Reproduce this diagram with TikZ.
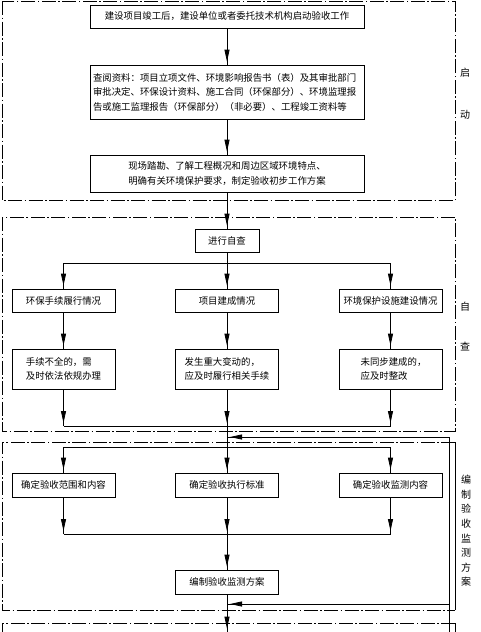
\documentclass[tikz,border=0pt]{standalone}
\usepackage{fontspec}
\setmainfont{Noto Sans CJK SC}
\usetikzlibrary{arrows.meta}
\begin{document}
\begin{tikzpicture}[x=1pt,y=-1pt,
  txt/.style={font=\fontsize{9.4pt}{14.5pt}\selectfont},
  box/.style={draw, line width=0.8pt, inner sep=2pt, align=center, txt},
  widebox/.style={box, minimum width=274pt},
  rowbox/.style={box, minimum width=103pt},
  conn/.style={line width=0.8pt},
  arr/.style={conn, postaction={draw, line width=0.8pt, -{Triangle[width=5pt,length=12pt]}, shorten >=3pt}},
  frame/.style={line width=0.8pt, dash pattern=on 14pt off 2.5pt on 1.5pt off 2.5pt},
  lbl/.style={txt, font=\fontsize{10pt}{14.6pt}\selectfont, align=center, inner sep=0pt}
]
\useasboundingbox (0,0) rectangle (481,632);
\clip (0,0) rectangle (481,632);

% frames
\draw[frame] (2,1) rectangle (455,200);
\draw[frame] (2,217) rectangle (455,431);
\draw[frame] (455,442) -- (2,442) -- (2,610) -- (455,610);
\draw[conn] (455,442) -- (455,610);
\draw[frame] (455,623) -- (2,623) -- (2,660);
\draw[conn] (455,623) -- (455,660);

% frame labels
\node[lbl] (q1) at (465,73) {启};
\node[lbl] (q2) at (465,115) {动};
\node[lbl] (z1) at (465,307) {自};
\node[lbl] (z2) at (465,347) {查};
\node[lbl] (bz3) at (466,531) {编\\制\\验\\收\\监\\测\\方\\案};

% stage 1
\node[widebox, minimum height=23pt] (n1) at (227,16.5) {建设项目竣工后，建设单位或者委托技术机构启动验收工作};
\node[box, minimum height=54pt, text width=268pt, inner xsep=3pt, align=left] (n2) at (227,92)
  {查阅资料：项目立项文件、环境影响报告书（表）及其审批部门\\审批决定、环保设计资料、施工合同（环保部分）、环境监理报\\告或施工监理报告（环保部分）（非必要）、工程竣工资料等};
\node[widebox, minimum height=37pt, align=left] (n3) at (227,173.5)
  {现场踏勘、了解工程概况和周边区域环境特点、\\明确有关环境保护要求，制定验收初步工作方案};

% stage 2
\node[box, minimum width=64pt, minimum height=23pt] (jc) at (227,240.5) {进行自查};
\node[rowbox, minimum height=23pt] (a1) at (63.5,300.5) {环保手续履行情况};
\node[rowbox, minimum height=23pt] (b1) at (227,300.5) {项目建成情况};
\node[rowbox, minimum height=23pt] (c1) at (390.5,300.5) {环境保护设施建设情况};
\node[rowbox, minimum height=40pt, align=left] (a2) at (63.5,369) {手续不全的，需\\及时依法依规办理};
\node[rowbox, minimum height=40pt, align=left] (b2) at (227,369) {发生重大变动的，\\应及时履行相关手续};
\node[rowbox, minimum height=40pt, align=left] (c2) at (390.5,369) {\hspace*{6pt}未同步建成的，\\\hspace*{6pt}应及时整改};

% stage 3
\node[rowbox, minimum height=24pt] (a3) at (63.5,485) {确定验收范围和内容};
\node[rowbox, minimum height=24pt] (b3) at (227,485) {确定验收执行标准};
\node[rowbox, minimum height=24pt] (c3) at (390.5,485) {确定验收监测内容};
\node[rowbox, minimum height=24pt] (bz) at (227,582) {编制验收监测方案};
\node[rowbox, minimum height=24pt] (nx) at (227,644) {};

% coordinates
\coordinate (s1) at (227,263);
\coordinate (m1l) at (63.5,426);
\coordinate (m1) at (227,426);
\coordinate (m1r) at (390.5,426);
\coordinate (s2) at (227,447);
\coordinate (m2l) at (63.5,534);
\coordinate (m2) at (227,534);
\coordinate (m2r) at (390.5,534);
\coordinate (f1) at (449,437);
\coordinate (f1e) at (227,437);
\coordinate (f2) at (449,604);
\coordinate (f2e) at (227,604);
\coordinate (fend) at (449,660);

% connectors
\draw[arr] (n1) -- (n2);
\draw[arr] (n2) -- (n3);
\draw[arr] (n3) -- (jc);
\draw[conn] (jc) -- (s1);
\draw[arr] (s1) -| (a1);
\draw[arr] (s1) -- (b1);
\draw[arr] (s1) -| (c1);
\draw[arr] (a1) -- (a2);
\draw[arr] (b1) -- (b2);
\draw[arr] (c1) -- (c2);
\draw[arr] (a2) -- (m1l);
\draw[arr] (b2) -- (m1);
\draw[arr] (c2) -- (m1r);
\draw[conn] (m1l) -- (m1r);
\draw[conn] (m1) -- (s2);
\draw[arr] (s2) -| (a3);
\draw[arr] (s2) -- (b3);
\draw[arr] (s2) -| (c3);
\draw[arr] (a3) -- (m2l);
\draw[arr] (b3) -- (m2);
\draw[arr] (c3) -- (m2r);
\draw[conn] (m2l) -- (m2r);
\draw[arr] (m2) -- (bz);
\draw[arr] (bz) -- (nx);
\draw[conn] (fend) -- (f1);
\draw[arr] (f1) -- (f1e);
\draw[arr] (f2) -- (f2e);
\end{tikzpicture}
\end{document}
